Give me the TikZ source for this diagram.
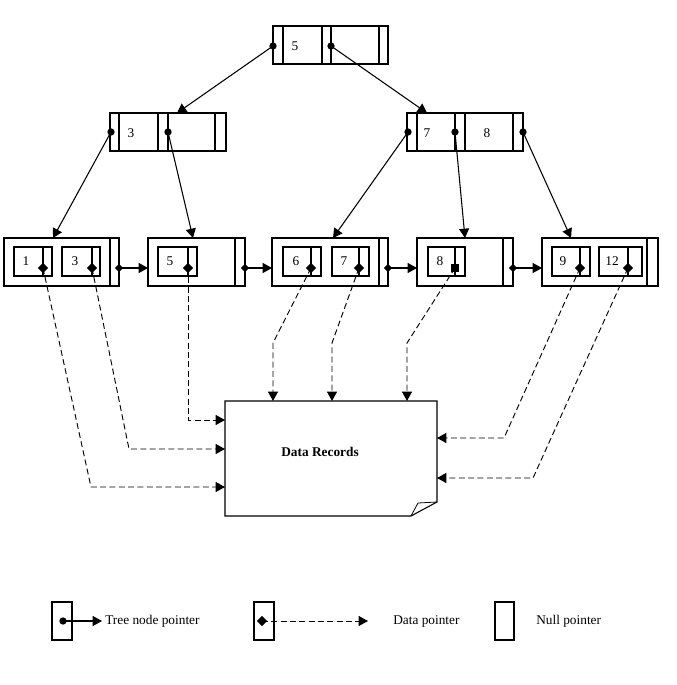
\documentclass[tikz,border=0pt]{standalone}
\usepackage{fontspec}
\setmainfont{Liberation Serif}
\usetikzlibrary{arrows.meta,shapes.geometric}

\tikzset{
  cell/.style={draw, line width=0.8pt},
  treeptr/.style={line width=0.8pt, -{Triangle[length=7pt,width=7.5pt]}},
  dataptr/.style={line width=0.7pt, dash pattern=on 4.5pt off 2.5pt,
                  -{Triangle[length=7pt,width=7.5pt]}},
  cdot/.style={circle, fill, inner sep=0pt, minimum size=5.5pt},
  ddot/.style={diamond, fill, inner sep=0pt, minimum size=8pt},
  sdot/.style={rectangle, fill, inner sep=0pt, minimum size=5.5pt},
  key/.style={font=\fontsize{10}{12}\selectfont, inner sep=0pt},
}

\begin{document}
\begin{tikzpicture}[x=0.75pt, y=-0.75pt]
  \useasboundingbox (0,0) rectangle (676,685);

  %% 根節點
  \draw[cell] (273,26) rectangle (388,64);
  \foreach \xx in {283,322,331,379} \draw[cell] (\xx,26) -- (\xx,64);
  \node[key] (kroot) at (295,46) {5};
  \node[cdot] (proot1) at (273,46) {};
  \node[cdot] (proot2) at (331,46) {};

  %% 第二層
  \draw[cell] (110,113) rectangle (226,151);
  \foreach \xx in {119,158,168,215} \draw[cell] (\xx,113) -- (\xx,151);
  \node[key] (kthree) at (131,133) {3};
  \node[cdot] (pleft1) at (111,132) {};
  \node[cdot] (pleft2) at (168,132) {};

  \draw[cell] (407,113) rectangle (523,151);
  \foreach \xx in {417,455,465,513} \draw[cell] (\xx,113) -- (\xx,151);
  \node[key] (kseven) at (427,133) {7};
  \node[key] (keight) at (487,133) {8};
  \node[cdot] (pright1) at (408,132) {};
  \node[cdot] (pright2) at (455,132) {};
  \node[cdot] (pright3) at (523,132) {};

  \coordinate (inleft)  at (177,113);
  \coordinate (inright) at (427,113);
  \draw[treeptr] (proot1.center) -- (inleft);
  \draw[treeptr] (proot2.center) -- (inright);

  %% 葉節點
  \draw[cell] (4,238) rectangle (119,286);
  \draw[cell] (110,238) -- (110,286);
  \draw[cell] (14,247) rectangle (52,276);  \draw[cell] (43,247) -- (43,276);
  \draw[cell] (62,247) rectangle (100,276); \draw[cell] (92,247) -- (92,276);
  \node[key] (kl1) at (26,261) {1};
  \node[key] (kl3) at (75,261) {3};
  \node[ddot] (dl1) at (43,268) {};
  \node[ddot] (dl3) at (92,268) {};
  \node[ddot, minimum size=6.5pt] (nl1) at (119,268) {};

  \draw[cell] (148,238) rectangle (245,286);
  \draw[cell] (235,238) -- (235,286);
  \draw[cell] (158,247) rectangle (197,276); \draw[cell] (188,247) -- (188,276);
  \node[key] (kl5) at (170,261) {5};
  \node[ddot] (dl5) at (188,268) {};
  \node[ddot, minimum size=6.5pt] (nl2) at (245,268) {};

  \draw[cell] (272,238) rectangle (388,286);
  \draw[cell] (379,238) -- (379,286);
  \draw[cell] (283,247) rectangle (321,276); \draw[cell] (311,247) -- (311,276);
  \draw[cell] (332,247) rectangle (369,276); \draw[cell] (359,247) -- (359,276);
  \node[key] (kl6) at (296,261) {6};
  \node[key] (kl7) at (344,261) {7};
  \node[ddot] (dl6) at (311,268) {};
  \node[ddot] (dl7) at (359,268) {};
  \node[ddot, minimum size=6.5pt] (nl3) at (388,268) {};

  \draw[cell] (417,238) rectangle (513,286);
  \draw[cell] (503,238) -- (503,286);
  \draw[cell] (428,247) rectangle (465,276); \draw[cell] (455,247) -- (455,276);
  \node[key] (kl8) at (440,261) {8};
  \node[sdot] (dl8) at (455,268) {};
  \node[ddot, minimum size=6.5pt] (nl4) at (513,268) {};

  \draw[cell] (542,238) rectangle (658,286);
  \draw[cell] (647,238) -- (647,286);
  \draw[cell] (552,247) rectangle (590,276); \draw[cell] (580,247) -- (580,276);
  \draw[cell] (599,247) rectangle (642,276); \draw[cell] (628,247) -- (628,276);
  \node[key] (kl9) at (563,261) {9};
  \node[key] (kl12) at (612,261) {12};
  \node[ddot] (dl9) at (580,268) {};
  \node[ddot] (dl12) at (628,268) {};

  %% 內部節點指向葉節點
  \coordinate (inl1) at (53,238);
  \coordinate (inl2) at (193,238);
  \coordinate (inl3) at (333,238);
  \coordinate (inl4) at (465,238);
  \coordinate (inl5) at (571,238);
  \draw[treeptr] (pleft1.center)  -- (inl1);
  \draw[treeptr] (pleft2.center)  -- (inl2);
  \draw[treeptr] (pright1.center) -- (inl3);
  \draw[treeptr] (pright2.center) -- (inl4);
  \draw[treeptr] (pright3.center) -- (inl5);

  %% 葉節點串列
  \coordinate (wl2) at (148,268);
  \coordinate (wl3) at (272,268);
  \coordinate (wl4) at (417,268);
  \coordinate (wl5) at (542,268);
  \draw[treeptr] (nl1.center) -- (wl2);
  \draw[treeptr] (nl2.center) -- (wl3);
  \draw[treeptr] (nl3.center) -- (wl4);
  \draw[treeptr] (nl4.center) -- (wl5);

  %% 資料紀錄
  \draw[cell] (225,401) -- (437,401) -- (437,502) -- (411,516) -- (225,516) -- cycle;
  \draw[line width=0.6pt] (411,516) -- (418,503) -- (437,502);
  \node[font=\fontsize{10}{12}\selectfont\bfseries] (records) at (320,452) {Data Records};

  \draw[dataptr] (dl1.center)  -- (91,487)  -- (225,487);
  \draw[dataptr] (dl3.center)  -- (129,449) -- (225,449);
  \draw[dataptr] (dl5.center)  -- (188,420) -- (225,420);
  \draw[dataptr] (dl6.center)  -- (273,343) -- (273,401);
  \draw[dataptr] (dl7.center)  -- (332,343) -- (332,401);
  \draw[dataptr] (dl8.center)  -- (407,343) -- (407,401);
  \draw[dataptr] (dl9.center)  -- (504,438) -- (437,438);
  \draw[dataptr] (dl12.center) -- (533,478) -- (437,478);

  %% 圖例
  \draw[cell] (52,602) rectangle (72,640);
  \node[cdot] (legtree) at (63,621) {};
  \coordinate (legtreeend) at (102,621);
  \draw[treeptr] (legtree.center) -- (legtreeend);
  \node[key, anchor=west] (legtreetxt) at (105,621) {Tree node pointer};

  \draw[cell] (254,602) rectangle (274,640);
  \node[ddot] (legdata) at (262,621) {};
  \coordinate (legdataend) at (368,621);
  \draw[dataptr] (legdata.center) -- (legdataend);
  \node[key, anchor=west] (legdatatxt) at (393,621) {Data pointer};

  \draw[cell] (495,602) rectangle (514,640);
  \node[key, anchor=west] (legnulltxt) at (536,621) {Null pointer};

\end{tikzpicture}
\end{document}
